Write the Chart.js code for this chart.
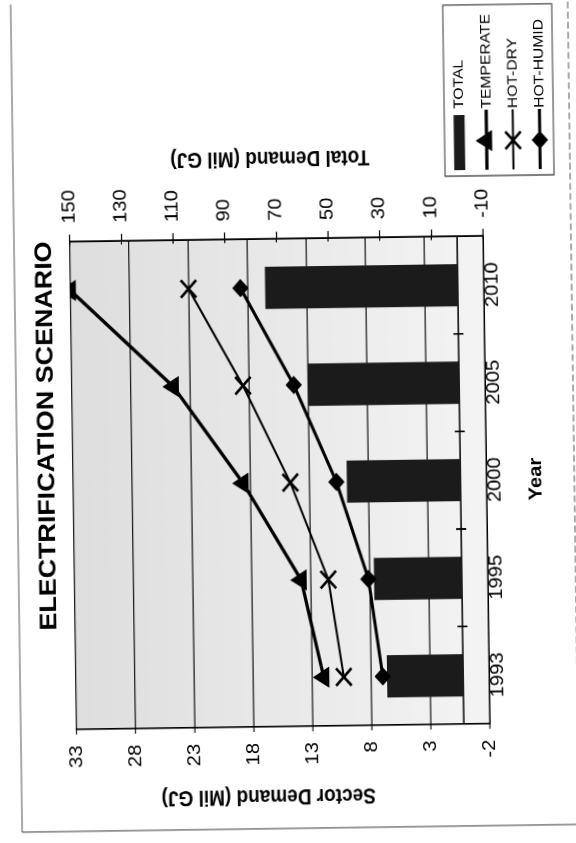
<!DOCTYPE html>
<html>
<head>
<meta charset="utf-8">
<script src="https://cdn.jsdelivr.net/npm/chart.js@4.4.1/dist/chart.umd.min.js"></script>
<style>
  html, body { margin: 0; padding: 0; background: #fff; overflow: hidden; }
  #page { position: relative; width: 576px; height: 843px; overflow: hidden; }
  /* the scanned page lies on its side: draw the chart upright, then turn it */
  #wrap {
    position: absolute;
    width: 753px; height: 576px;
    left: -88.5px; top: 133.5px;
    transform-origin: 50% 50%;
    transform: rotate(-90.8deg) scaleX(1.1195);
  }
</style>
</head>
<body>
<div id="page"><div id="wrap"><canvas id="chart" width="753" height="576"></canvas></div></div>
<script>
// values (Mil GJ)
const years = ['1993', '1995', '2000', '2005', '2010'];
const totalDemand = [29.5, 34, 44, 58.6, 74.6];
const temperate = [12.0, 13.8, 18.6, 24.4, 33.0];
const hotDry = [10.3, 11.5, 14.6, 18.5, 23.0];
const hotHumid = [7.0, 8.1, 10.7, 14.2, 18.6];

// axis ranges
const sectorAxis = [-2, 33, 5];   // min, max, step
const totalAxis = [-10, 150, 20];

const FONT = "'Liberation Sans', Arial, Helvetica, sans-serif";

function drawSideTitle(ctx, text, x, y) {
    ctx.save();
    ctx.translate(x, y);
    ctx.rotate(-Math.PI / 2);
    ctx.font = 'bold 19px ' + FONT;
    ctx.fillStyle = '#000';
    ctx.textAlign = 'center';
    ctx.textBaseline = 'middle';
    ctx.fillText(text, 0, 0);
    ctx.restore();
}

/**
 * Legend box, drawn by hand (sits low on the right like the original)
 */
function drawLegend(chart) {
    let ctx = chart.ctx;
    let rows = [462.8, 490, 516.5, 543.3];
    let symLeft = 599.4, symRight = 653, textX = 654;

    ctx.save();
    ctx.fillStyle = '#fff';
    ctx.fillRect(594, 448, 152.8, 109);
    ctx.strokeStyle = '#333';
    ctx.lineWidth = 1;
    ctx.strokeRect(594, 448, 152.8, 109);
    ctx.font = '14px ' + FONT;
    ctx.textAlign = 'left';
    ctx.textBaseline = 'middle';

    chart.data.datasets.forEach(function (ds, i) {
        let yy = rows[i];
        if (ds.type === 'bar') {
            ctx.fillStyle = ds.backgroundColor;
            ctx.fillRect(symLeft, yy - 5.5, 648.5 - symLeft, 11);
        }
        else {
            ctx.strokeStyle = ds.borderColor;
            ctx.lineWidth = ds.borderWidth;
            ctx.beginPath();
            ctx.moveTo(symLeft, yy);
            ctx.lineTo(symRight, yy);
            ctx.stroke();
            if (Chart.helpers && Chart.helpers.drawPoint) {
                ctx.fillStyle = ds.pointBackgroundColor;
                ctx.strokeStyle = ds.pointBorderColor;
                ctx.lineWidth = ds.pointBorderWidth;
                Chart.helpers.drawPoint(ctx, {
                    pointStyle: ds.pointStyle,
                    radius: ds.pointRadius,
                    rotation: 0,
                    borderWidth: ds.pointBorderWidth
                }, 625.3, yy);
            }
        }
        ctx.fillStyle = '#000';
        ctx.fillText(ds.label, textX, yy + 0.5);
    });
    ctx.restore();
}

const decor = {
    id: 'decor',
    beforeDraw(chart) {
        let ctx = chart.ctx, a = chart.chartArea;
        ctx.save();
        // page frame
        ctx.strokeStyle = '#555';
        ctx.lineWidth = 1;
        ctx.beginPath();
        ctx.moveTo(13.4, 16); ctx.lineTo(753, 16);
        ctx.moveTo(13.4, 16); ctx.lineTo(13.4, 576);
        ctx.stroke();
        ctx.setLineDash([6, 3]);
        ctx.beginPath();
        ctx.moveTo(13.4, 573); ctx.lineTo(753, 573);
        ctx.stroke();
        ctx.setLineDash([]);
        // grey plot area, lighter towards the bottom as on the copy
        let g = ctx.createLinearGradient(0, a.top, 0, a.bottom);
        g.addColorStop(0, '#dedede');
        g.addColorStop(1, '#f4f4f4');
        ctx.fillStyle = g;
        ctx.fillRect(a.left, a.top, a.right - a.left, a.bottom - a.top);
        ctx.restore();
    },
    beforeDatasetsDraw(chart) {
        // category axis crosses at zero, ticks between the years
        let ctx = chart.ctx, a = chart.chartArea;
        let x = chart.scales.x, y1 = chart.scales.y1;
        let y0 = y1.getPixelForValue(0);
        let half = (x.getPixelForValue(1) - x.getPixelForValue(0)) / 2;
        ctx.save();
        ctx.strokeStyle = '#000';
        ctx.lineWidth = 1.5;
        ctx.beginPath();
        ctx.moveTo(a.left, y0);
        ctx.lineTo(a.right, y0);
        for (let i = 1; i < years.length; i++) {
            let px = x.getPixelForValue(i) - half;
            ctx.moveTo(px, y0 - 5);
            ctx.lineTo(px, y0 + 5);
        }
        ctx.stroke();
        // right axis tick marks poke a little into the plot
        ctx.lineWidth = 1.2;
        ctx.beginPath();
        y1.ticks.forEach(function (t) {
            let py = y1.getPixelForValue(t.value);
            ctx.moveTo(a.right - 3, py);
            ctx.lineTo(a.right, py);
        });
        ctx.stroke();
        ctx.restore();
    },
    afterDraw(chart) {
        drawSideTitle(chart.ctx, 'Sector Demand (Mil GJ)', 42.9, 263);
        drawSideTitle(chart.ctx, 'Total Demand (Mil GJ)', 612.8, 273);
        drawLegend(chart);
    }
};

const tickFont = { family: FONT, size: 18, lineHeight: 1 };

new Chart(document.getElementById('chart'), {
    type: 'bar',
    data: {
        labels: years,
        datasets: [
            {
                type: 'bar', label: 'TOTAL', data: totalDemand, yAxisID: 'y1', order: 1,
                backgroundColor: '#1b1b1b', barPercentage: 0.433, categoryPercentage: 1
            },
            {
                type: 'line', label: 'TEMPERATE', data: temperate, yAxisID: 'y', order: 0,
                borderColor: '#000', borderWidth: 3.2, tension: 0,
                pointStyle: 'triangle', pointRadius: 10,
                pointBackgroundColor: '#000', pointBorderColor: '#000', pointBorderWidth: 1
            },
            {
                type: 'line', label: 'HOT-DRY', data: hotDry, yAxisID: 'y', order: 0,
                borderColor: '#000', borderWidth: 2, tension: 0,
                pointStyle: 'crossRot', pointRadius: 11,
                pointBackgroundColor: '#000', pointBorderColor: '#000', pointBorderWidth: 2.5
            },
            {
                type: 'line', label: 'HOT-HUMID', data: hotHumid, yAxisID: 'y', order: 0,
                borderColor: '#000', borderWidth: 3, tension: 0,
                pointStyle: 'rectRot', pointRadius: 7.5,
                pointBackgroundColor: '#000', pointBorderColor: '#000', pointBorderWidth: 1
            }
        ]
    },
    options: {
        responsive: false,
        animation: false,
        devicePixelRatio: 2,
        layout: { padding: { left: 0, right: 19, top: 0, bottom: 0 } },
        plugins: {
            legend: { display: false },
            tooltip: { enabled: false },
            title: {
                display: true,
                text: 'ELECTRIFICATION SCENARIO',
                color: '#000',
                font: { family: FONT, size: 24, weight: 'bold', lineHeight: 1.2 },
                padding: { top: 32.1, bottom: 10.9 }
            }
        },
        scales: {
            x: {
                offset: true,
                grid: { display: false, drawTicks: false },
                border: { display: true, color: '#000', width: 1.5 },
                ticks: { color: '#000', padding: 0, font: tickFont, maxRotation: 0, autoSkip: false },
                title: {
                    display: true, text: 'Year', color: '#000',
                    font: { family: FONT, size: 18, weight: 'bold', lineHeight: 1.2 },
                    padding: { top: 0, bottom: 30.2 }
                },
                afterFit(s) { s.height = 91; }
            },
            y: {
                position: 'left',
                min: sectorAxis[0], max: sectorAxis[1],
                ticks: { stepSize: sectorAxis[2], padding: 9.8, color: '#000', font: tickFont },
                grid: { color: '#1a1a1a', lineWidth: 1.2, tickLength: 4.5 },
                border: { color: '#000', width: 1.5 },
                afterFit(s) { s.width = 104.5; }
            },
            y1: {
                position: 'right',
                min: totalAxis[0], max: totalAxis[1],
                ticks: { stepSize: totalAxis[2], padding: 9.9, color: '#000', font: tickFont },
                grid: { drawOnChartArea: false, color: '#000', lineWidth: 1.2, tickLength: 6.25 },
                border: { color: '#000', width: 1.5 },
                afterFit(s) { s.width = 193.8; }
            }
        }
    },
    plugins: [decor]
});
</script>
</body>
</html>
